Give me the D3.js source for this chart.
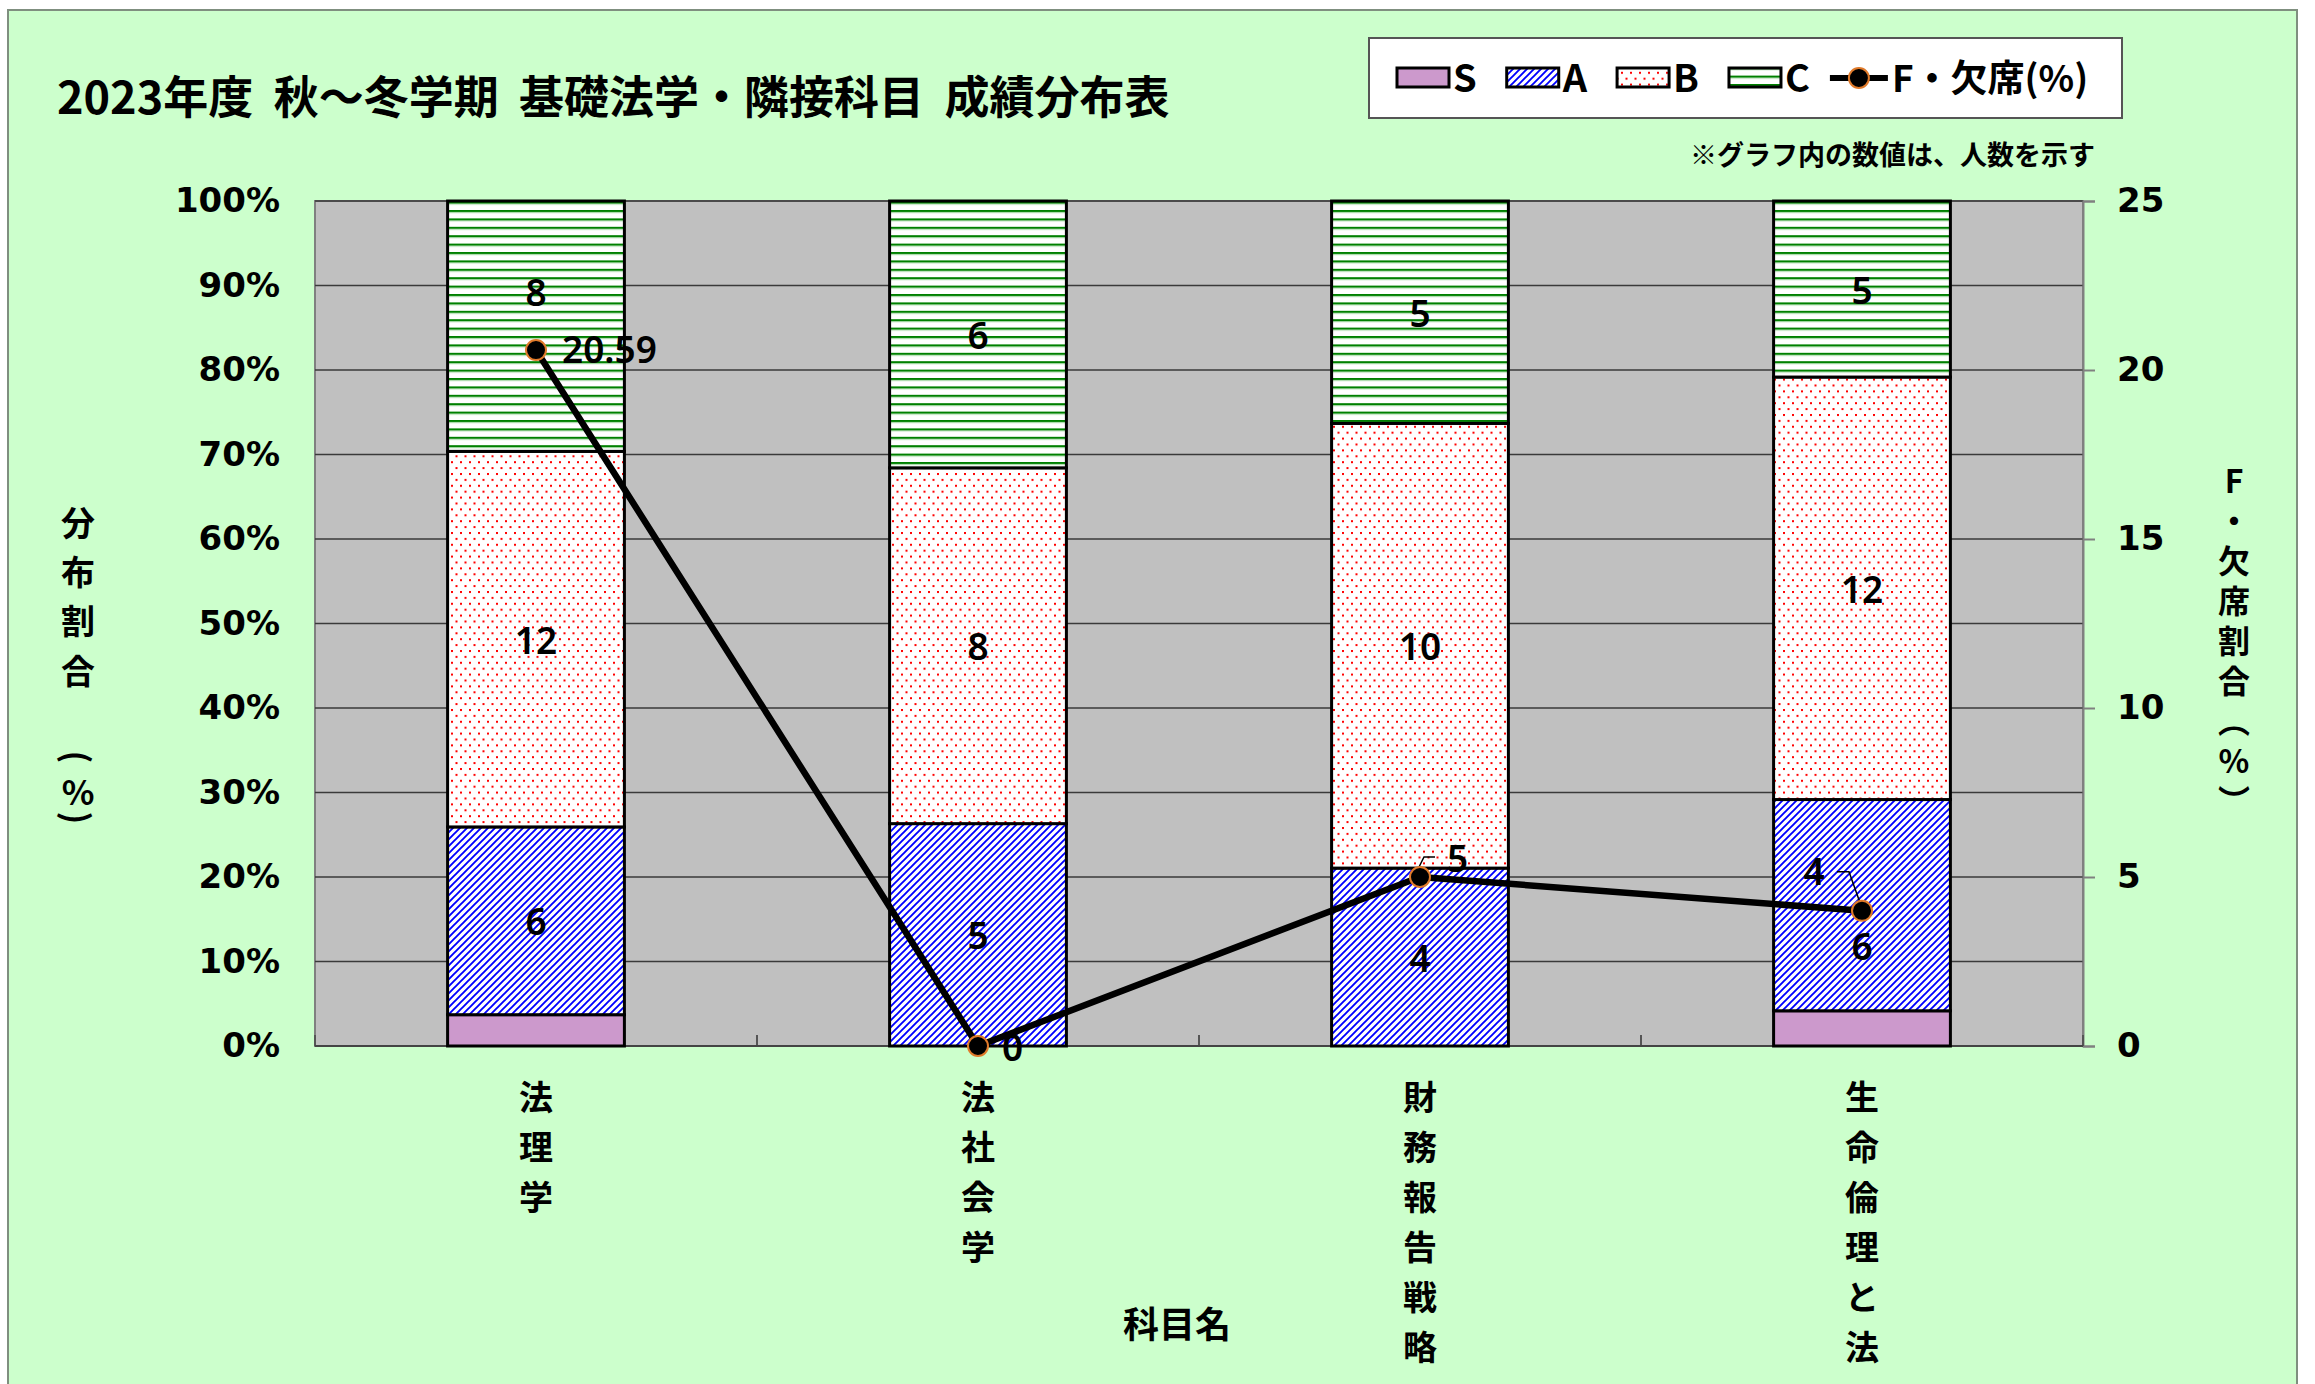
<!DOCTYPE html>
<html>
<head>
<meta charset="utf-8">
<script src="https://cdn.jsdelivr.net/npm/d3@7"></script>
<style>
  body { margin: 0; background: #fff; }
  svg { display: block; }
  .jp { font-family: "Noto Sans CJK JP", sans-serif; font-weight: 700; }
  .num { font-family: "DejaVu Sans", sans-serif; font-weight: 700; }
  .lbl { font-family: "Noto Sans", sans-serif; font-weight: 600; }
  .vt { writing-mode: vertical-rl; text-orientation: upright; }
</style>
</head>
<body>
<svg id="chart" width="2315" height="1384"></svg>
<script>
// data
var categories = ['法理学', '法社会学', '財務報告戦略', '生命倫理と法'];
var grades = ['S', 'A', 'B', 'C'];
var countS = [1, 0, 0, 1];
var countA = [6, 5, 4, 6];
var countB = [12, 8, 10, 12];
var countC = [8, 6, 5, 5];
var fRate = [20.59, 0, 5, 4];
var leftTicks = [0, 0.1, 0.2, 0.3, 0.4, 0.5, 0.6, 0.7, 0.8, 0.9, 1];
var rightTicks = [0, 5, 10, 15, 20, 25];

var svg = d3.select('#chart');
var m = { left: 315, right: 2083, top: 201, bottom: 1046 };

// outer chart area
svg.append('rect')
  .attr('x', 8).attr('y', 10).attr('width', 2289).attr('height', 1390)
  .attr('fill', '#CCFFCC').attr('stroke', '#7f8f7f').attr('stroke-width', 2);

// patterns
var defs = svg.append('defs');
var pA = defs.append('pattern').attr('id', 'patA').attr('patternUnits', 'userSpaceOnUse')
  .attr('width', 7).attr('height', 7);
pA.append('rect').attr('width', 7).attr('height', 7).attr('fill', '#fff');
pA.append('path').attr('d', 'M-1,1 l2,-2 M0,7 l7,-7 M6,8 l2,-2')
  .attr('stroke', '#0000FF').attr('stroke-width', 1.9);

var pB = defs.append('pattern').attr('id', 'patB').attr('patternUnits', 'userSpaceOnUse')
  .attr('width', 9).attr('height', 11.8);
pB.append('rect').attr('width', 9).attr('height', 11.8).attr('fill', '#fff');
pB.append('rect').attr('x', 1).attr('y', 1).attr('width', 2).attr('height', 2).attr('fill', '#FF0000');
pB.append('rect').attr('x', 5.5).attr('y', 6.9).attr('width', 2).attr('height', 2).attr('fill', '#FF0000');

var pC = defs.append('pattern').attr('id', 'patC').attr('patternUnits', 'userSpaceOnUse')
  .attr('width', 8).attr('height', 8.4);
pC.append('rect').attr('width', 8).attr('height', 8.4).attr('fill', '#fff');
pC.append('rect').attr('y', 0).attr('width', 8).attr('height', 2).attr('fill', '#008000');
pC.append('rect').attr('y', 2).attr('width', 8).attr('height', 1).attr('fill', '#9ad49a');

var fills = { S: '#CC99CC', A: 'url(#patA)', B: 'url(#patB)', C: 'url(#patC)' };

// scales
var x = d3.scaleBand().domain(categories).range([m.left, m.right])
  .paddingInner(0.6).paddingOuter(0.3);
var y = d3.scaleLinear().domain([0, 1]).range([m.bottom, m.top]);
var y2 = d3.scaleLinear().domain([0, 25]).range([m.bottom, m.top]);

// plot background + grid
svg.append('rect')
  .attr('x', m.left).attr('y', m.top)
  .attr('width', m.right - m.left).attr('height', m.bottom - m.top)
  .attr('fill', '#C0C0C0').attr('stroke', '#808080').attr('stroke-width', 2);

svg.append('g').selectAll('line').data(leftTicks.slice(1)).enter().append('line')
  .attr('x1', m.left).attr('x2', m.right)
  .attr('y1', d => y(d)).attr('y2', d => y(d))
  .attr('stroke', '#3a3a3a').attr('stroke-width', 1.6);

// left axis labels
var yAxis = d3.axisLeft(y).tickValues(leftTicks).tickSize(0).tickPadding(35)
  .tickFormat(d => Math.round(d * 100) + '%');
var gy = svg.append('g').attr('transform', 'translate(' + m.left + ',0)').call(yAxis);
gy.select('.domain').remove();
gy.selectAll('text').attr('class', 'num').attr('font-size', 34).attr('fill', '#000');

// right axis
var y2Axis = d3.axisRight(y2).tickValues(rightTicks).tickSize(12).tickPadding(22);
var gy2 = svg.append('g').attr('transform', 'translate(' + m.right + ',0)').call(y2Axis);
gy2.select('.domain').attr('stroke', '#808080').attr('stroke-width', 2);
gy2.selectAll('line').attr('stroke', '#808080').attr('stroke-width', 2);
gy2.selectAll('text').attr('class', 'num').attr('font-size', 34).attr('fill', '#000');

// category boundaries ticks + bottom axis line
var step = x.step();
var bounds = d3.range(categories.length + 1).map(i => m.left + i * step);
svg.append('g').selectAll('line').data(bounds).enter().append('line')
  .attr('x1', d => d).attr('x2', d => d)
  .attr('y1', m.bottom).attr('y2', m.bottom - 11)
  .attr('stroke', '#555').attr('stroke-width', 2);
svg.append('line').attr('x1', m.left).attr('x2', m.right)
  .attr('y1', m.bottom).attr('y2', m.bottom).attr('stroke', '#444').attr('stroke-width', 2);

// stacked bars
var rows = categories.map((c, i) => {
  var tot = countS[i] + countA[i] + countB[i] + countC[i];
  return { cat: c, S: countS[i] / tot, A: countA[i] / tot, B: countB[i] / tot, C: countC[i] / tot,
    n: { S: countS[i], A: countA[i], B: countB[i], C: countC[i] } };
});
var series = d3.stack().keys(grades)(rows);

var layers = svg.append('g').selectAll('g').data(series).enter().append('g')
  .attr('fill', d => fills[d.key]);
layers.selectAll('rect').data(d => d.filter(s => s[1] - s[0] > 0)).enter().append('rect')
  .attr('x', d => x(d.data.cat))
  .attr('width', x.bandwidth())
  .attr('y', d => y(d[1]))
  .attr('height', d => y(d[0]) - y(d[1]))
  .attr('stroke', '#000').attr('stroke-width', 3);

// count labels (S left unlabeled as in the original)
var labelNudge = { '法理学|C': -35, '生命倫理と法|A': 40 };
var segLabels = [];
series.forEach(s => {
  if (s.key === 'S') return;
  s.forEach(d => {
    if (d.data.n[s.key] > 0) segLabels.push({ key: s.key, d: d });
  });
});
svg.append('g').selectAll('text').data(segLabels).enter().append('text')
  .attr('class', 'lbl').attr('font-size', 37).attr('text-anchor', 'middle')
  .attr('dominant-baseline', 'central')
  .attr('x', e => x(e.d.data.cat) + x.bandwidth() / 2)
  .attr('y', e => y((e.d[0] + e.d[1]) / 2) + (labelNudge[e.d.data.cat + '|' + e.key] || 0))
  .text(e => e.d.data.n[e.key]);

// F line
var pts = categories.map((c, i) => ({ cat: c, v: fRate[i] }));
var line = d3.line().x(d => x(d.cat) + x.bandwidth() / 2).y(d => y2(d.v));
svg.append('path').datum(pts).attr('d', line)
  .attr('fill', 'none').attr('stroke', '#000').attr('stroke-width', 6.5)
  .attr('stroke-linejoin', 'round');

// F labels and leaders (drawn before markers)
var fLabelPos = [
  { dx: 26, dy: -2, anchor: 'start' },
  { dx: 24, dy: 0, anchor: 'start' },
  { dx: 27, dy: -20, anchor: 'start', leader: [[-1, -10], [4, -20], [15, -20]] },
  { dx: -48, dy: -40, anchor: 'middle', leader: [[-2, -8], [-13, -39], [-25, -39]] }
];
var fl = svg.append('g');
pts.forEach((d, i) => {
  var cx = x(d.cat) + x.bandwidth() / 2, cy = y2(d.v), p = fLabelPos[i];
  if (p.leader) {
    fl.append('polyline')
      .attr('points', p.leader.map(q => (cx + q[0]) + ',' + (cy + q[1])).join(' '))
      .attr('fill', 'none').attr('stroke', '#000').attr('stroke-width', 1.5);
  }
  fl.append('text').attr('class', 'lbl').attr('font-size', 37)
    .attr('text-anchor', p.anchor).attr('dominant-baseline', 'central')
    .attr('x', cx + p.dx).attr('y', cy + p.dy)
    .text(d.v);
});

svg.append('g').selectAll('circle').data(pts).enter().append('circle')
  .attr('cx', d => x(d.cat) + x.bandwidth() / 2)
  .attr('cy', d => y2(d.v))
  .attr('r', 10).attr('fill', '#000').attr('stroke', '#E07A2A').attr('stroke-width', 2);

// category labels, vertical
var catG = svg.append('g');
categories.forEach(c => {
  c.split('').forEach((ch, k) => {
    catG.append('text').attr('class', 'jp').attr('font-size', 34)
      .attr('text-anchor', 'middle').attr('dominant-baseline', 'central')
      .attr('x', x(c) + x.bandwidth() / 2).attr('y', 1095 + k * 50)
      .text(ch);
  });
});

// axis titles
svg.append('text').attr('class', 'jp').attr('font-size', 36)
  .attr('text-anchor', 'middle').attr('dominant-baseline', 'central')
  .attr('x', 1177).attr('y', 1322).text('科目名');

function vText(chars, cx, ys, size) {
  var g = svg.append('g');
  chars.forEach((ch, k) => {
    var t = g.append('text').attr('class', 'jp').attr('font-size', size)
      .attr('text-anchor', 'middle').attr('dominant-baseline', 'central')
      .attr('x', cx).attr('y', ys[k]).text(ch);
    if (ch === '(' || ch === ')') t.attr('transform', 'rotate(90,' + cx + ',' + ys[k] + ')');
  });
}
vText(['分', '布', '割', '合', '(', '%', ')'], 78, [521, 570, 619, 669, 757, 790, 818], 34);

// right title as one vertical text run
svg.append('text').attr('class', 'jp vt').attr('font-size', 32)
  .attr('x', 2234).attr('y', 465).attr('letter-spacing', 8)
  .text('F・欠席割合（%）');

// title and note
svg.append('text').attr('class', 'jp').attr('font-size', 45)
  .attr('x', 57).attr('y', 114).attr('xml:space', 'preserve')
  .text('2023年度  秋～冬学期  基礎法学・隣接科目  成績分布表');
svg.append('text').attr('class', 'jp').attr('font-size', 27)
  .attr('x', 2095).attr('y', 165).attr('text-anchor', 'end')
  .text('※グラフ内の数値は、人数を示す');

// legend
var lg = svg.append('g');
lg.append('rect').attr('x', 1369).attr('y', 38).attr('width', 753).attr('height', 80)
  .attr('fill', '#fff').attr('stroke', '#555').attr('stroke-width', 2);
var lx = 1397;
grades.forEach(k => {
  lg.append('rect').attr('x', lx).attr('y', 68).attr('width', 52).attr('height', 19)
    .attr('fill', fills[k]).attr('stroke', '#000').attr('stroke-width', 3);
  var t = lg.append('text').attr('class', 'jp').attr('font-size', 38)
    .attr('x', lx + 56).attr('y', 92).text(k);
  lx += 56 + t.node().getComputedTextLength() + 30;
});
lg.append('line').attr('x1', lx - 10).attr('x2', lx + 48).attr('y1', 78).attr('y2', 78)
  .attr('stroke', '#000').attr('stroke-width', 6);
lg.append('circle').attr('cx', lx + 19).attr('cy', 78).attr('r', 10)
  .attr('fill', '#000').attr('stroke', '#E07A2A').attr('stroke-width', 2);
lg.append('text').attr('class', 'jp').attr('font-size', 37)
  .attr('x', lx + 52).attr('y', 92).text('F・欠席(%)');
</script>
</body>
</html>
